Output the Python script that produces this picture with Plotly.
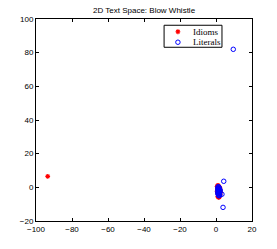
import plotly.graph_objects as go

title = "2D Text Space: Blow Whistle"

idiom_x = [-93.5, 0.6, 1.0, 1.4, 1.8, 2.2, 0.8, 1.2, 1.6, 2.0, 2.4, 0.9, 1.3, 1.7,
           2.1, 0.7, 1.1, 1.5, 1.9, 2.3, 1.0, 1.4, 1.8, 1.2, 1.6, 2.0, 0.8, 2.5]
idiom_y = [6.5, 0.5, 1.2, 0.8, 0.2, -0.5, -1.0, -1.5, -2.0, -2.5, -3.0, -3.5, -4.0,
           -4.5, -5.0, -2.2, -2.8, -3.3, -1.2, -4.0, -5.5, -6.0, -5.8, -0.3, 0.0,
           -1.8, -3.0, -2.2]

literal_x = [9.6, 4.3, 3.9, 3.3, 1.0, 1.4, 1.8, 2.2, 1.2, 1.6, 2.0, 0.9, 1.3, 1.7,
             2.1, 1.1, 1.5, 1.9, 1.4, 1.8, 2.3, 1.0, 1.6, 2.0, 1.2]
literal_y = [82.0, 3.6, -11.9, -4.1, -0.5, 0.2, -0.8, -1.5, -1.8, -2.2, -2.8, -2.5,
             -3.2, -3.6, -4.0, -1.0, -1.3, -3.0, -4.5, -0.3, -2.0, -3.8, -5.0, -4.8,
             0.4]

series_names = ["Idioms", "Literals"]
x_ticks = [-100, -80, -60, -40, -20, 0, 20]
y_ticks = [-20, 0, 20, 40, 60, 80, 100]

red = "#ff0000"
blue = "#0000ff"
idiom_marker = dict(symbol="asterisk", size=4, color=red, line=dict(color=red, width=1.2))
literal_marker = dict(symbol="circle-open", size=4.5, color=blue, line=dict(color=blue, width=1))

fig = go.Figure()
fig.add_trace(go.Scatter(x=idiom_x, y=idiom_y, mode="markers", name=series_names[0],
                         marker=idiom_marker, showlegend=False))
fig.add_trace(go.Scatter(x=literal_x, y=literal_y, mode="markers", name=series_names[1],
                         marker=literal_marker, showlegend=False))

# compact MATLAB-style legend drawn on an overlay axis in [0,1] units
leg_x0, leg_x1, leg_y0, leg_y1 = 0.593, 0.861, 0.860, 0.969
sym_x, txt_x = 0.657, 0.716
row_y = [0.937, 0.885]
fig.add_trace(go.Scatter(x=[sym_x], y=[row_y[0]], mode="markers", marker=idiom_marker,
                         xaxis="x2", yaxis="y2", showlegend=False, hoverinfo="skip"))
fig.add_trace(go.Scatter(x=[sym_x], y=[row_y[1]], mode="markers", marker=literal_marker,
                         xaxis="x2", yaxis="y2", showlegend=False, hoverinfo="skip"))

fig.add_shape(type="rect", xref="paper", yref="paper", x0=leg_x0, x1=leg_x1,
              y0=leg_y0, y1=leg_y1, line=dict(color="#000000", width=1),
              fillcolor="white", layer="below")
for name, yy in zip(series_names, row_y):
    fig.add_annotation(xref="paper", yref="paper", x=txt_x, y=yy, text=name,
                       showarrow=False, xanchor="left", yanchor="middle",
                       font=dict(family="Liberation Serif, Times New Roman", size=9,
                                 color="#000000"))

axis_common = dict(showgrid=False, zeroline=False, showline=True, mirror="ticks",
                   linecolor="#000000", linewidth=1, ticks="inside", ticklen=3,
                   tickcolor="#000000",
                   tickfont=dict(family="Liberation Sans, Arial", size=8, color="#000000"))

fig.update_layout(
    width=277, height=249,
    margin=dict(l=36, r=25, t=19, b=28),
    paper_bgcolor="white", plot_bgcolor="white",
    title=dict(text=title, x=0.52, xanchor="center", y=0.96, yanchor="middle",
               font=dict(family="Liberation Sans, Arial", size=8, color="#000000")),
    xaxis=dict(range=[-100, 20], tickvals=x_ticks, **axis_common),
    yaxis=dict(range=[-20, 100], tickvals=y_ticks, **axis_common),
    xaxis2=dict(range=[0, 1], overlaying="x", visible=False, fixedrange=True),
    yaxis2=dict(range=[0, 1], overlaying="y", visible=False, fixedrange=True),
    showlegend=False,
)

fig.write_html("out.html", config={"displayModeBar": False},
               post_script="document.body.style.margin='0';document.body.style.overflow='hidden';")
